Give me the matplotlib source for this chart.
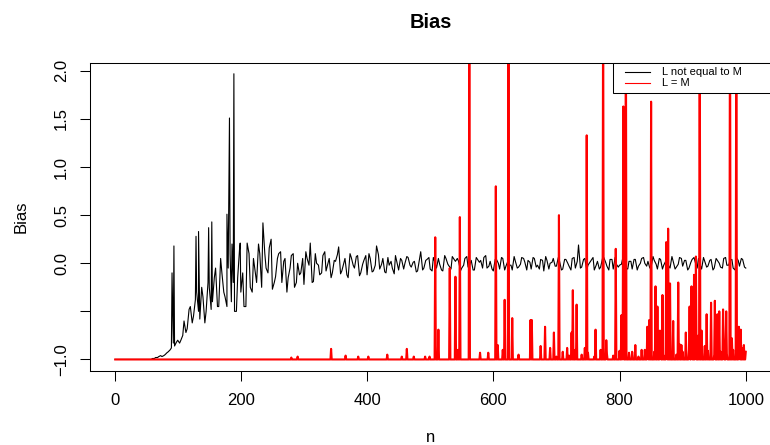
import numpy as np
import matplotlib
matplotlib.use("Agg")
import matplotlib.pyplot as plt
from matplotlib.patches import Rectangle

plt.rcParams['font.family'] = ['Liberation Sans', 'DejaVu Sans']

# black series ("L not equal to M"), read at n = 5, 10, ..., 1000
black_n = list(range(5, 1001, 5))
black_v = [
    -1, -1, -1, -1, -1, -1, -1, -1, -1, -1,
    -1.0, -0.99, -0.98, -0.97, -0.97, -0.95, -0.92, -0.88, -0.86, -0.80,
    -0.80, -0.60, -0.68, -0.45, -0.55, -0.30, -0.58, -0.35, -0.50, -0.25,
    -0.40, -0.05, -0.45, -0.10, -0.35, -0.05, -0.40, -0.50, -0.15, -0.30,
    -0.45, 0.21, -0.25, 0.05, -0.20, 0.10, 0.42, -0.05, 0.16, -0.27,
    -0.14, 0.10, -0.20, 0.05, -0.15, 0.08, -0.25, 0.00, -0.10, -0.22,
    0.05, 0.21, -0.19, 0.00, -0.12, 0.08, -0.08, 0.05, -0.10, 0.02,
    0.17, -0.08, 0.05, -0.15, 0.06, -0.05, 0.08, -0.10, 0.03, -0.12,
    0.05, -0.08, 0.18, -0.06, 0.05, -0.10, -0.02, -0.05, 0.08, -0.07,
    0.03, 0.00, 0.06, -0.04, 0.02, -0.08, 0.12, -0.05, 0.04, -0.06,
    0.06, -0.05, -0.01, -0.08, 0.05, -0.03, 0.07, 0.02, 0.02, -0.05,
    0.05, -0.04, 0.03, -0.07, 0.04, 0.03, 0.06, -0.05, 0.02, -0.08,
    0.04, -0.06, 0.05, -0.03, -0.02, -0.07, 0.02, -0.04, 0.06, 0.01,
    0.03, -0.06, 0.05, -0.02, 0.04, -0.08, 0.03, 0.00, 0.05, -0.03,
    0.02, -0.06, 0.04, -0.03, 0.05, -0.05, 0.19, -0.04, 0.05, -0.02,
    0.03, -0.07, 0.02, -0.04, 0.06, -0.03, 0.04, -0.06, -0.01, -0.02,
    0.05, -0.05, 0.02, -0.06, 0.04, -0.03, 0.05, 0.00, 0.02, -0.04,
    0.03, -0.06, 0.04, -0.02, 0.05, -0.05, 0.02, -0.04, 0.06, -0.03,
    0.03, -0.05, 0.04, 0.01, 0.05, -0.06, 0.02, -0.03, 0.04, -0.05,
    0.03, -0.04, 0.05, -0.02, 0.03, -0.05, 0.06, -0.03, 0.04, -0.05,
]
# black readings in between, at n = 3, 8, ..., 998
black_mid_n = list(range(3, 1001, 5))
black_mid_v = [
    -1, -1, -1, -1, -1, -1, -1, -1, -1, -1, -1, -1,
    -0.99, -0.98, -0.96, -0.96, -0.93, -0.90, -0.83, -0.82, -0.83, -0.75,
    -0.72, -0.48, -0.62, -0.38, -0.50, -0.25, -0.62, -0.20, -0.48, -0.15,
    -0.45, 0.05, -0.30, -0.45, 0.10, -0.20, -0.50, 0.15, -0.10, -0.45,
    0.10, -0.30, -0.10, 0.20, -0.25, 0.10, -0.10, 0.25, -0.20, 0.05,
    0.12, 0.02, -0.30, -0.05, 0.10, -0.20, -0.12, 0.05, 0.12, -0.02,
    -0.20, 0.10, -0.02, -0.10, 0.12, 0.00, -0.15, 0.03, 0.09, -0.11,
    0.00, -0.12, 0.10, -0.02, 0.07, -0.13, -0.01, 0.08, 0.10, -0.09,
    -0.02, 0.09, -0.01, -0.09, 0.06, 0.02, -0.11, -0.01, 0.05, -0.06,
    0.07, -0.02, 0.01, -0.09, 0.04, -0.07, 0.03, 0.06, -0.08, 0.00,
    0.05, -0.07, 0.08, -0.01, -0.06, 0.04, 0.05, -0.08, -0.02, 0.07,
    -0.01, -0.07, 0.06, 0.01, -0.05, 0.08, -0.03, -0.06, 0.04, 0.00,
    0.06, -0.07, 0.02, -0.02, 0.07, -0.05, -0.01, 0.05, -0.07, 0.01,
    0.06, -0.04, -0.06, 0.03, 0.07, -0.06, 0.01, -0.03, 0.06, -0.07,
    0.04, 0.00, -0.07, 0.06, 0.02, -0.05, 0.04, -0.07, 0.01, 0.06,
    -0.02, -0.06, 0.05, 0.01, -0.07, 0.04, 0.06, -0.04, -0.01, 0.07,
    -0.06, 0.02, 0.04, -0.07, 0.00, 0.06, -0.03, -0.05, 0.07, -0.01,
    0.05, -0.06, 0.02, -0.03, 0.07, -0.06, -0.01, 0.05, 0.03, -0.07,
    0.01, 0.06, -0.05, -0.02, 0.06, -0.04, 0.03, -0.07, 0.05, 0.00,
    -0.05, 0.06, -0.02, 0.04, -0.07, 0.03, 0.05, -0.04,
]
# black spikes between those readings
black_spike_n = [1, 91, 94, 129, 133, 149, 154, 178, 182, 186, 189, 199]
black_spike_v = [-1, -0.10, 0.18, 0.28, 0.33, 0.37, 0.43, 0.51, 1.51, 0.20, 1.97, 0.21]

# red series ("L = M"): sits at -1 except these readings
red_floor_n = list(range(700, 1001, 10)) + list(range(805, 1000, 10))
red_floor_v = [-0.97, -0.92, -0.96, -0.90, -0.95, -0.93, -0.97, -0.90, -0.94, -0.96,
               -0.91, -0.95, -0.92, -0.97, -0.90, -0.94, -0.93, -0.96, -0.91, -0.95,
               -0.92, -0.90, -0.96, -0.93, -0.91, -0.95, -0.92, -0.94, -0.90, -0.93, -0.92,
               -0.88, -0.93, -0.85, -0.90, -0.80, -0.92, -0.86, -0.78, -0.90, -0.84,
               -0.80, -0.88, -0.75, -0.86, -0.82, -0.90, -0.78, -0.85, -0.80, -0.88]
red_spike_n = [280, 290, 343, 366, 386, 402, 432, 455, 463, 474, 492, 499,
               508, 513, 531, 540, 544, 547, 562, 579, 592, 604, 607, 615, 618, 624, 630, 640,
               659, 661, 675, 682, 690, 696, 704, 717, 724, 726, 732, 745, 748, 762, 774, 779,
               794, 803, 806, 810,
               844, 847, 850, 857, 860, 864, 868, 874, 877, 880, 885, 893, 898, 905, 911,
               914, 918, 921, 927, 930, 938, 945, 951, 955, 958, 964, 969, 975, 978, 985,
               989, 992, 997]
red_spike_v = [-0.98, -0.97, -0.89, -0.96, -0.97, -0.97, -0.95, -0.97, -0.89, -0.97, -0.97, -0.97,
               0.27, -0.69, -0.05, -0.14, -0.90, 0.48, 3.0, -0.93, -0.93, 0.80, -0.85, -0.90, -0.38, 3.0, -0.57, -0.95,
               -0.59, -0.59, -0.86, -0.66, -0.88, -0.72, 0.50, -0.88, -0.72, -0.28, -0.43, -0.88, 1.33, -0.69, 3.0, -0.80,
               0.15, -0.54, 1.63, 3.0,
               -0.66, -0.59, 1.68, -0.24, -0.45, -0.70, -0.33, 0.22, 0.36, -0.21, -0.60, -0.20, -0.85, -0.72, -0.45,
               -0.24, -0.12, 0.07, 3.0, -0.70, -0.53, -0.41, -0.39, -0.53, -0.50, -0.48, -0.50, 3.0, -0.78, 3.0,
               -0.66, -0.69, -0.85]

y_ticks = [-1.0, -0.5, 0.0, 0.5, 1.0, 1.5, 2.0]
y_labels = ['\u22121.0', '', '0.0', '0.5', '1.0', '1.5', '2.0']
x_ticks = [0, 200, 400, 600, 800, 1000]
legend_labels = ['L not equal to M', 'L = M']
legend_colors = ['black', 'red']

# plot box in pixels (the right edge runs just past the picture)
BOX_L, BOX_R, BOX_T, BOX_B = 90, 771, 62.7, 371


def px(x, y):
    # pixel position -> axes fraction
    return (x - BOX_L) / (BOX_R - BOX_L), (BOX_B - y) / (BOX_B - BOX_T)


def build_black():
    n = np.array(black_n + black_mid_n + black_spike_n, dtype=float)
    v = np.array(black_v + black_mid_v + black_spike_v, dtype=float)
    order = np.argsort(n, kind='stable')
    return n[order], v[order]


def build_red():
    n = np.arange(1, 1001)
    v = np.full(n.size, -1.0)
    for k, val in zip(red_floor_n, red_floor_v):
        v[k - 1] = val
    for k, val in zip(red_spike_n, red_spike_v):
        v[k - 1] = val
    return n, v


fig = plt.figure(figsize=(7.7, 4.45), dpi=100)
ax = fig.add_axes([BOX_L / 770, 1 - BOX_B / 445, (BOX_R - BOX_L) / 770, (BOX_B - BOX_T) / 445])

bn, bv = build_black()
rn, rv = build_red()
ax.plot(bn, bv, color='black', lw=0.8)
ax.plot(rn, rv, color='red', lw=1.5)

ax.set_xlim(-38.96, 1039.96)
ax.set_ylim(-1.12, 2.085)
ax.set_xticks(x_ticks)
ax.set_yticks(y_ticks)
ax.set_yticklabels(y_labels, rotation=90, va='center')
ax.tick_params(direction='out', length=7, width=0.75, labelsize=12)
ax.tick_params(axis='x', pad=9)
ax.tick_params(axis='y', pad=8)
for s in ax.spines.values():
    s.set_linewidth(0.75)

ax.set_xlabel('n', fontsize=12)
ax.xaxis.set_label_coords(0.5, px(0, 430)[1])
ax.set_ylabel('Bias', fontsize=12, va='center')
ax.yaxis.set_label_coords(px(21, 0)[0], 0.5)

fig.text((BOX_L + BOX_R) / 2 / 770, 1 - 22 / 445, 'Bias', ha='center', va='center',
         fontsize=14.4, fontweight='bold')

# legend box, drawn like R's legend(): white box over the lines
x0, y0 = px(613, 93.3)
x1, y1 = px(775, 62.7)
ax.add_patch(Rectangle((x0, y0), x1 - x0, y1 - y0, transform=ax.transAxes,
                       facecolor='white', edgecolor='black', lw=0.75,
                       clip_on=False, zorder=5))
for row, (lab, col) in enumerate(zip(legend_labels, legend_colors)):
    yy = 71.7 + row * 11.6
    (hx0, hy), (hx1, _) = px(625, yy), px(650, yy)
    ax.plot([hx0, hx1], [hy, hy], color=col, lw=0.8, transform=ax.transAxes,
            clip_on=False, zorder=6)
    ax.text(px(662, yy)[0], hy, lab, transform=ax.transAxes, fontsize=8,
            ha='left', va='center', zorder=6)

fig.savefig('out.png', dpi=100)
